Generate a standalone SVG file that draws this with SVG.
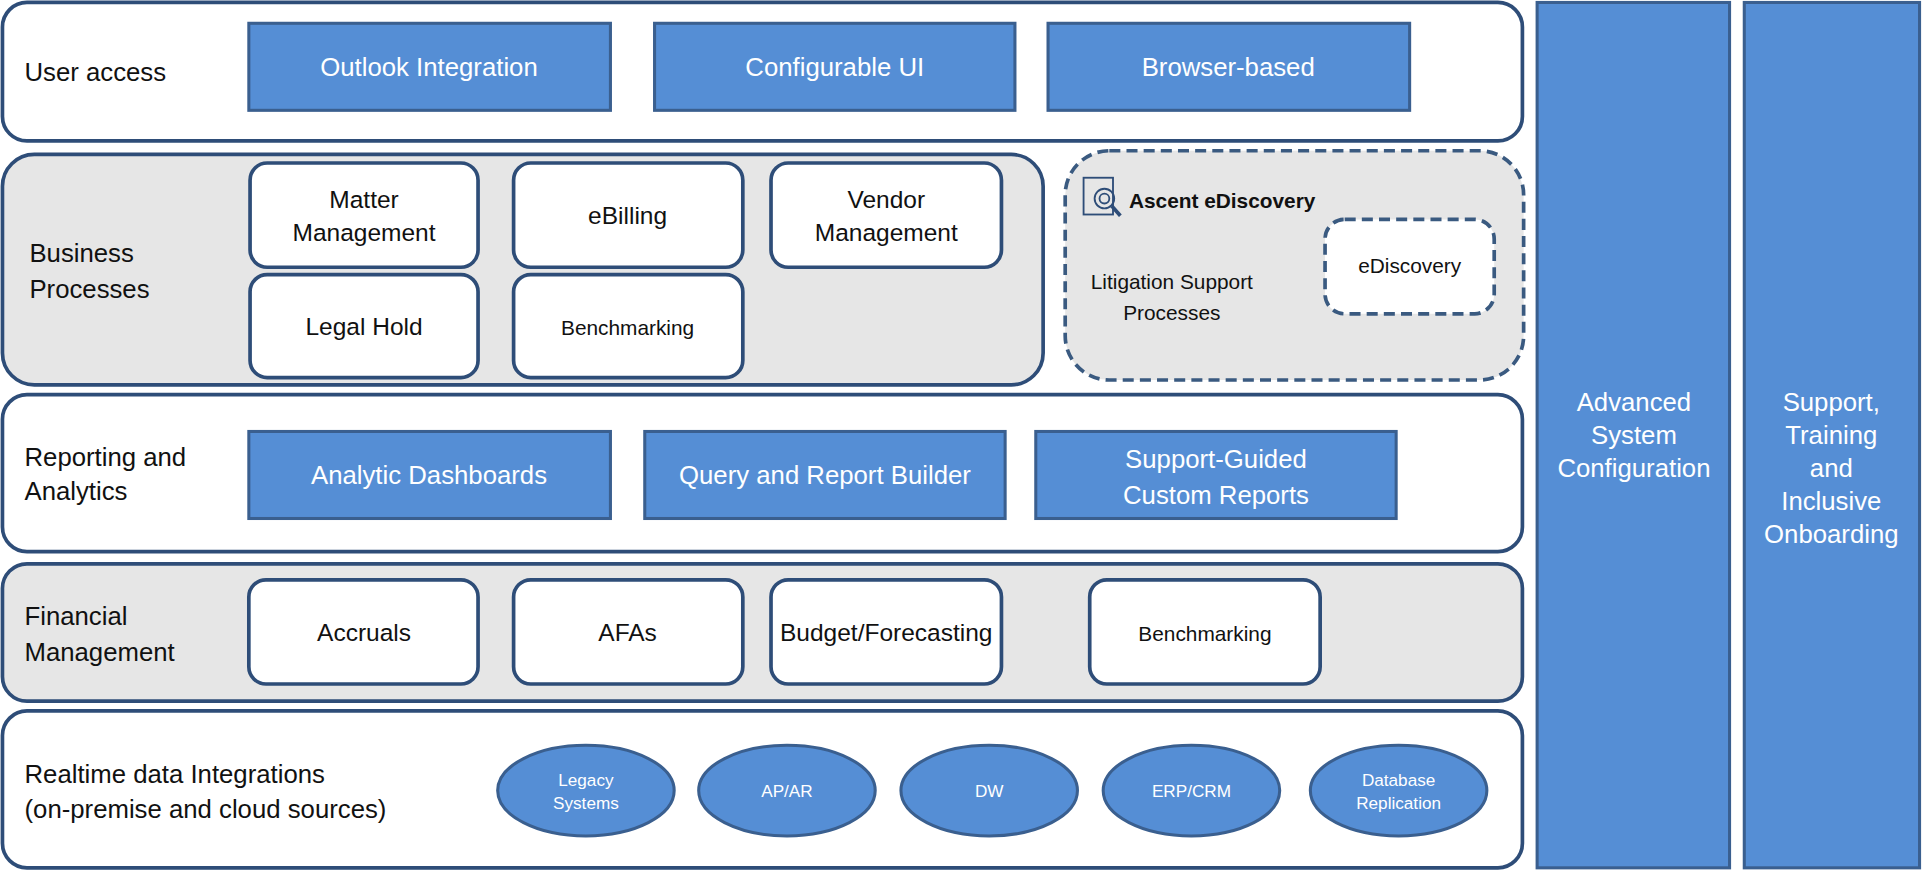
<svg xmlns="http://www.w3.org/2000/svg" width="1922" height="871" viewBox="0 0 1922 871">
<style>
text{font-family:"Liberation Sans",Arial,sans-serif;fill:#111;}
.band{stroke:#2e4d78;stroke-width:3;}
.w{fill:#fff}.g{fill:#e6e6e6}
.blue{fill:#558ed5;stroke:#3a5f8f;stroke-width:2.5}
.bt{fill:#fff;font-size:21px;text-anchor:middle}
.node{fill:#fff;stroke:#2e4d78;stroke-width:3}
.nt{font-size:20px;text-anchor:middle}
.st{font-size:17px;text-anchor:middle}
.lab{font-size:21px}
.dash{stroke:#3a5a80;stroke-width:3;stroke-dasharray:9 5}
.et{fill:#fff;font-size:14px;text-anchor:middle}
</style>
<rect width="1922" height="871" fill="#fff"/>
<g transform="scale(1.22577)">
<g id="band-user"><rect class="band w" x="2" y="2" width="1240" height="113" rx="20"/><text class="lab" x="20" y="66">User access</text></g>
<g id="n-outlook"><rect class="blue" x="203" y="19" width="295" height="71"/><text class="bt" x="350" y="62">Outlook Integration</text></g>
<g id="n-config"><rect class="blue" x="534" y="19" width="294" height="71"/><text class="bt" x="681" y="62">Configurable UI</text></g>
<g id="n-browser"><rect class="blue" x="855" y="19" width="295" height="71"/><text class="bt" x="1002" y="62">Browser-based</text></g>

<g id="band-business"><rect class="band g" x="2" y="126" width="849" height="188" rx="26"/><text class="lab" x="24" y="214">Business</text><text class="lab" x="24" y="243">Processes</text></g>
<g id="n-matter"><rect class="node" x="204" y="133" width="186" height="85" rx="14"/><text class="nt" x="297" y="170">Matter</text><text class="nt" x="297" y="197">Management</text></g>
<g id="n-ebilling"><rect class="node" x="419" y="133" width="187" height="85" rx="14"/><text class="nt" x="512" y="183">eBilling</text></g>
<g id="n-vendor"><rect class="node" x="629" y="133" width="188" height="85" rx="14"/><text class="nt" x="723" y="170">Vendor</text><text class="nt" x="723" y="197">Management</text></g>
<g id="n-legal"><rect class="node" x="204" y="224" width="186" height="84" rx="14"/><text class="nt" x="297" y="273">Legal Hold</text></g>
<g id="n-bench1"><rect class="node" x="419" y="224" width="187" height="84" rx="14"/><text class="st" x="512" y="273">Benchmarking</text></g>
<g id="n-ascent"><rect class="dash g" x="869" y="123" width="374" height="187" rx="36"/>
<g fill="none" stroke="#2e4d78" stroke-width="1.5"><rect x="884" y="145" width="24" height="30"/><circle cx="901" cy="162" r="8"/><circle cx="901" cy="162" r="4"/><line x1="907" y1="168" x2="914" y2="176" stroke-width="3"/></g>
<text x="921" y="170" style="font-size:17px;font-weight:bold">Ascent eDiscovery</text>
<text class="st" x="956" y="236">Litigation Support</text><text class="st" x="956" y="261">Processes</text></g>
<g id="n-ediscovery"><rect class="dash w" x="1081" y="179" width="138" height="77" rx="16"/><text class="st" x="1150" y="223">eDiscovery</text></g>

<g id="band-reporting"><rect class="band w" x="2" y="322" width="1240" height="128" rx="20"/><text class="lab" x="20" y="380">Reporting and</text><text class="lab" x="20" y="408">Analytics</text></g>
<g id="n-analytic"><rect class="blue" x="203" y="352" width="295" height="71"/><text class="bt" x="350" y="395">Analytic Dashboards</text></g>
<g id="n-query"><rect class="blue" x="526" y="352" width="294" height="71"/><text class="bt" x="673" y="395">Query and Report Builder</text></g>
<g id="n-support"><rect class="blue" x="845" y="352" width="294" height="71"/><text class="bt" x="992" y="382">Support-Guided</text><text class="bt" x="992" y="411">Custom Reports</text></g>

<g id="band-financial"><rect class="band g" x="2" y="460" width="1240" height="112" rx="20"/><text class="lab" x="20" y="510">Financial</text><text class="lab" x="20" y="539">Management</text></g>
<g id="n-accruals"><rect class="node" x="203" y="473" width="187" height="85" rx="14"/><text class="nt" x="297" y="523">Accruals</text></g>
<g id="n-afas"><rect class="node" x="419" y="473" width="187" height="85" rx="14"/><text class="nt" x="512" y="523">AFAs</text></g>
<g id="n-budget"><rect class="node" x="629" y="473" width="188" height="85" rx="14"/><text class="nt" x="723" y="523">Budget/Forecasting</text></g>
<g id="n-bench2"><rect class="node" x="889" y="473" width="188" height="85" rx="14"/><text class="st" x="983" y="523">Benchmarking</text></g>

<g id="band-data"><rect class="band w" x="2" y="580" width="1240" height="128" rx="20"/><text class="lab" x="20" y="639">Realtime data Integrations</text><text class="lab" x="20" y="667">(on-premise and cloud sources)</text></g>
<g id="n-legacy"><ellipse class="blue" cx="478" cy="645" rx="72" ry="37"/><text class="et" x="478" y="641">Legacy</text><text class="et" x="478" y="660">Systems</text></g>
<g id="n-apar"><ellipse class="blue" cx="642" cy="645" rx="72" ry="37"/><text class="et" x="642" y="650">AP/AR</text></g>
<g id="n-dw"><ellipse class="blue" cx="807" cy="645" rx="72" ry="37"/><text class="et" x="807" y="650">DW</text></g>
<g id="n-erp"><ellipse class="blue" cx="972" cy="645" rx="72" ry="37"/><text class="et" x="972" y="650">ERP/CRM</text></g>
<g id="n-db"><ellipse class="blue" cx="1141" cy="645" rx="72" ry="37"/><text class="et" x="1141" y="641">Database</text><text class="et" x="1141" y="660">Replication</text></g>

<g id="n-advanced"><rect class="blue" x="1254" y="2" width="157" height="706"/><text class="bt" x="1333" y="335">Advanced</text><text class="bt" x="1333" y="362">System</text><text class="bt" x="1333" y="389">Configuration</text></g>
<g id="n-training"><rect class="blue" x="1423" y="2" width="143" height="706"/><text class="bt" x="1494" y="335">Support,</text><text class="bt" x="1494" y="362">Training</text><text class="bt" x="1494" y="389">and</text><text class="bt" x="1494" y="416">Inclusive</text><text class="bt" x="1494" y="443">Onboarding</text></g>
<g id="connectors"/>
</g>
</svg>
